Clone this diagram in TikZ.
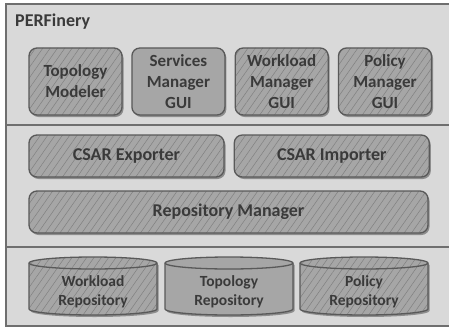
\documentclass[tikz,border=0pt]{standalone}
\usepackage{fontspec}
\setmainfont{Carlito}
\usetikzlibrary{positioning, patterns.meta, shadows}

\definecolor{bgGray}{HTML}{D9D9D9}
\definecolor{boxGray}{HTML}{A6A6A6}
\definecolor{lineGray}{HTML}{595959}
\definecolor{hatchGray}{HTML}{808080}
\definecolor{txtGray}{HTML}{3A3A3A}
\definecolor{frameGray}{HTML}{6F6F6F}

\begin{document}
\begin{tikzpicture}[x=1pt,y=-1pt,node distance=9pt,
    every node/.style={font=\bfseries\fontsize{17}{21}\selectfont,text=txtGray,align=center,inner sep=0pt},
    shade/.style={drop shadow={shadow xshift=1.5pt,shadow yshift=-2pt,opacity=0.35,fill=black}},
    box/.style={draw=lineGray,line width=1.3pt,rounded corners=8pt,shade,fill=boxGray},
    hatched/.style={draw=lineGray,line width=1.3pt,rounded corners=8pt,shade,preaction={fill=boxGray},
      pattern={Lines[angle=55,distance=6pt,line width=0.5pt]},pattern color=hatchGray},
    small/.style={minimum width=93pt,minimum height=67pt},
    wide/.style={minimum width=195pt,minimum height=42pt,font=\bfseries\fontsize{18}{21}\selectfont},
    repotext/.style={font=\bfseries\fontsize{15.5}{18.7}\selectfont},
    rim/.style={draw=lineGray,line width=1.3pt}]
  \useasboundingbox (0,0) rectangle (449,329);
  \clip (0,0) rectangle (449,329);
  % frame and layers
  \draw[frameGray,line width=2pt,fill=bgGray] (6,4) rectangle (470,326);
  \draw[frameGray,line width=1.5pt] (6,125) -- (470,125);
  \draw[frameGray,line width=1.5pt] (6,247) -- (470,247);
  \node[anchor=base west,font=\bfseries\fontsize{18}{21}\selectfont] (title) at (15,26.5) {PERFinery};

  % GUI layer
  \node[hatched,small] (topo) at (75.5,81.5) {Topology\\Modeler};
  \node[box,small] (svc) [right=of topo] {Services\\Manager\\GUI};
  \node[hatched,small] (wkl) [right=of svc] {Workload\\Manager\\GUI};
  \node[hatched,small] (pol) [right=of wkl] {Policy\\Manager\\GUI};

  % CSAR layer
  \node[hatched,wide] (exp) at (126.5,156) {CSAR Exporter};
  \node[hatched,wide] (imp) [right=of exp] {CSAR Importer};
  \node[hatched,wide,minimum width=399pt] (mgr) at (228.5,212) {Repository Manager};

  % repositories (cylinders)
  \draw[hatched,sharp corners] (29,263) -- (29,309) arc[start angle=180,end angle=360,x radius=64pt,y radius=6pt]
    -- (157,263) arc[start angle=0,end angle=180,x radius=64pt,y radius=6pt] -- cycle;
  \draw[rim] (29,263) arc[start angle=180,end angle=360,x radius=64pt,y radius=6pt];
  \node[repotext] (wrepo) at (93,292) {Workload\\Repository};

  \draw[box,sharp corners] (165,263) -- (165,309) arc[start angle=180,end angle=360,x radius=64pt,y radius=6pt]
    -- (293,263) arc[start angle=0,end angle=180,x radius=64pt,y radius=6pt] -- cycle;
  \draw[rim] (165,263) arc[start angle=180,end angle=360,x radius=64pt,y radius=6pt];
  \node[repotext] (trepo) at (229,292) {Topology\\Repository};

  \draw[hatched,sharp corners] (300,263) -- (300,309) arc[start angle=180,end angle=360,x radius=64pt,y radius=6pt]
    -- (428,263) arc[start angle=0,end angle=180,x radius=64pt,y radius=6pt] -- cycle;
  \draw[rim] (300,263) arc[start angle=180,end angle=360,x radius=64pt,y radius=6pt];
  \node[repotext] (prepo) at (364,292) {Policy\\Repository};
\end{tikzpicture}
\end{document}
